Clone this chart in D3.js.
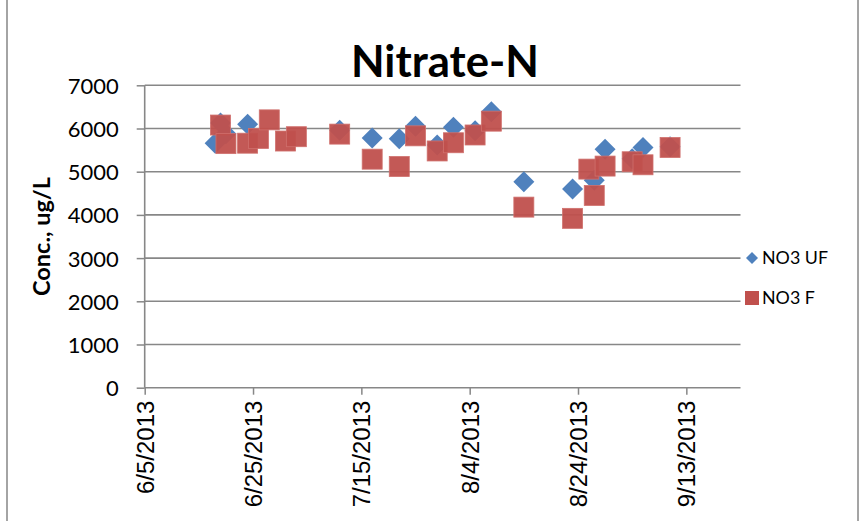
<!DOCTYPE html>
<html><head><meta charset="utf-8">
<script src="https://cdn.jsdelivr.net/npm/d3@7"></script>
<style>body{margin:0;background:#fff;}svg{display:block;font-family:Lato,"Open Sans",sans-serif;}</style>
</head><body>
<svg id="c" width="866" height="521"></svg>
<script>
const ufDates = ["2013-06-18","2013-06-19","2013-06-20","2013-06-24","2013-07-11","2013-07-17","2013-07-22","2013-07-25","2013-07-29","2013-08-01","2013-08-05","2013-08-08","2013-08-14","2013-08-23","2013-08-27","2013-08-29","2013-09-03","2013-09-05","2013-09-10"];
const ufValues = [5660,6130,5880,6100,5960,5780,5760,6050,5620,6030,5950,6390,4770,4600,4800,5520,5300,5560,5580];
const fDates = ["2013-06-19","2013-06-20","2013-06-24","2013-06-26","2013-06-28","2013-07-01","2013-07-03","2013-07-11","2013-07-17","2013-07-22","2013-07-25","2013-07-29","2013-08-01","2013-08-05","2013-08-08","2013-08-14","2013-08-23","2013-08-26","2013-08-27","2013-08-29","2013-09-03","2013-09-05","2013-09-10"];
const fValues = [6080,5650,5660,5770,6200,5710,5810,5870,5290,5120,5830,5480,5670,5850,6170,4180,3920,5060,4450,5130,5230,5160,5560];
const xTickLabels = ["6/5/2013","6/25/2013","7/15/2013","8/4/2013","8/24/2013","9/13/2013"];
const yTicks = [0,1000,2000,3000,4000,5000,6000,7000];
const seriesNames = ["NO3 UF","NO3 F"];
const colors = ["#4F81BD","#C0504D"];

const parse = d3.timeParse("%Y-%m-%d");
const parseTick = d3.timeParse("%m/%d/%Y");
const svg = d3.select("#c");
const L = 144.7, R = 740.5, T = 85.3, B = 387.7;
const x = d3.scaleTime().domain([parse("2013-06-05"), parse("2013-09-23")]).range([L, R]);
const y = d3.scaleLinear().domain([0,7000]).range([B, T]);
const grey = "#878787";

// size a font so that a sample string reaches a target width
function fitSize(str, target, weight) {
  const t = svg.append("text").attr("font-size",100).attr("font-weight",weight||"normal").text(str);
  const w = t.node().getComputedTextLength();
  t.remove();
  return 100 * target / w;
}
const yFont = fitSize("7000", 51);
const xFont = fitSize("6/25/2013", 119);
const titleFont = fitSize("Nitrate-N", 188, "bold");
const yTitleFont = fitSize("Conc., ug/L", 119, "bold");
const legFont = fitSize("NO3 UF", 66);

// outer border
svg.append("rect").attr("x",7).attr("y",-2).attr("width",851).attr("height",530)
  .attr("fill","none").attr("stroke",grey).attr("stroke-width",1.5);

// gridlines
svg.append("g").selectAll("line").data(yTicks.filter(d=>d>0)).join("line")
  .attr("x1",L).attr("x2",R).attr("y1",d=>y(d)).attr("y2",d=>y(d))
  .attr("stroke",grey).attr("stroke-width",1.6);

// y axis
const yAx = svg.append("g").attr("transform",`translate(${L},0)`)
  .call(d3.axisLeft(y).tickValues(yTicks).tickSize(8).tickPadding(18).tickFormat(d3.format("d")));
yAx.select(".domain").attr("stroke",grey).attr("stroke-width",1.6).attr("d",`M0,${T}V${B}`);
yAx.selectAll(".tick line").attr("stroke",grey).attr("stroke-width",1.5);
yAx.selectAll(".tick text").attr("font-size",yFont).attr("fill","#000").attr("font-family","Lato").attr("x",-26).attr("dy","0.36em");

// x axis
const xTickDates = xTickLabels.map(parseTick);
const xAx = svg.append("g").attr("transform",`translate(0,${B})`)
  .call(d3.axisBottom(x).tickValues(xTickDates).tickSize(7).tickFormat((d,i)=>xTickLabels[i]));
xAx.select(".domain").attr("stroke",grey).attr("stroke-width",1.6).attr("d",`M${L},0H${R}`);
xAx.selectAll(".tick line").attr("stroke",grey).attr("stroke-width",1.5);
xAx.selectAll(".tick text").attr("font-size",xFont).attr("fill","#000")
  .attr("transform","rotate(-90)").attr("text-anchor","end")
  .attr("x",-13).attr("y",0).attr("dy","0.36em");

// title
svg.append("text").attr("x",445).attr("y",77).attr("text-anchor","middle")
  .attr("font-size",titleFont).attr("font-weight","bold").text("Nitrate-N");

// y label
svg.append("text").attr("transform",`translate(50,${(T+B)/2}) rotate(-90)`).attr("text-anchor","middle")
  .attr("font-size",yTitleFont).attr("font-weight","bold").text("Conc., ug/L");

// points
const uf = ufDates.map((d,i)=>({date:parse(d),v:ufValues[i]}));
const f = fDates.map((d,i)=>({date:parse(d),v:fValues[i]}));
const diamond = "M0,-10.5L10.5,0L0,10.5L-10.5,0Z";
svg.append("g").selectAll("path").data(uf).join("path")
  .attr("d",diamond).attr("transform",d=>`translate(${x(d.date)},${y(d.v)})`)
  .attr("fill",colors[0]);
svg.append("g").selectAll("rect").data(f).join("rect")
  .attr("x",d=>x(d.date)-10).attr("y",d=>y(d.v)-10).attr("width",20).attr("height",20)
  .attr("fill",colors[1]).attr("fill-opacity",0.95).attr("stroke","#D0706D").attr("stroke-width",0.8);

// legend
const lg = svg.append("g");
lg.append("path").attr("d","M0,-6L6,0L0,6L-6,0Z").attr("transform","translate(752,258)").attr("fill",colors[0]);
lg.append("rect").attr("x",745).attr("y",291).attr("width",14).attr("height",14).attr("fill",colors[1]);
lg.append("text").attr("x",762).attr("y",258).attr("dy","0.36em").attr("font-size",legFont).text(seriesNames[0]);
lg.append("text").attr("x",762).attr("y",298).attr("dy","0.36em").attr("font-size",legFont).text(seriesNames[1]);
</script>
</body></html>
